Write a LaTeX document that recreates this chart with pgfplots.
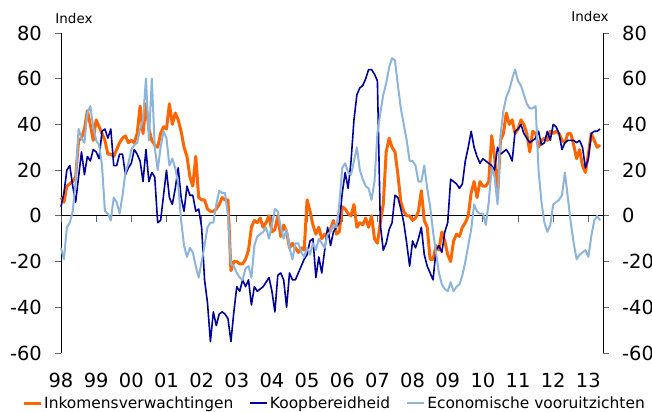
\documentclass[border=0pt]{standalone}
\usepackage{pgfplots}
\pgfplotsset{compat=1.18}
\usepackage{pgfplotstable}
\usepackage{fontspec}
\setmainfont{DejaVu Sans}
\definecolor{cOr}{HTML}{FF6600}
\definecolor{cNa}{HTML}{000099}
\definecolor{cLb}{HTML}{8EB4DA}
\pgfplotstableread{
m O N L
0 8 4 -14
1 6 10 -19
2 13 20 -5
3 14 22 -3
4 15 13 2
5 17 6 15
6 33 17 38
7 34 28 34
8 38 18 32
9 46 26 45
10 40 24 48
11 33 29 39
12 42 28 33
13 39 25 31
14 36 37 22
15 33 38 2
16 27 34 1
17 27 38 -2
18 26 22 8
19 29 22 6
20 32 27 1
21 34 27 9
22 35 18 19
23 32 21 23
24 33 23 29
25 32 29 31
26 36 27 32
27 48 24 38
28 36 15 42
29 49 29 60
30 38 15 33
31 33 19 60
32 31 17 30
33 30 -3 20
34 36 -2 30
35 39 9 37
36 38 20 34
37 49 8 22
38 40 5 25
39 45 12 21
40 42 21 14
41 37 8 -2
42 30 2 -13
43 26 13 -18
44 17 9 -14
45 13 9 -16
46 26 2 -22
47 8 3 -27
48 7 -5 -20
49 7 -28 -13
50 3 -38 -5
51 2 -55 -3
52 2 -42 -3
53 3 -48 5
54 5 -43 11
55 8 -42 10
56 7 -43 10
57 7 -45 0
58 -24 -55 -21
59 -20 -42 -22
60 -20 -31 -25
61 -21 -33 -27
62 -21 -28 -28
63 -19 -31 -23
64 -15 -28 -22
65 -5 -39 -27
66 -2 -31 -13
67 -3 -33 -9
68 -1 -32 -8
69 -5 -31 -7
70 -3 -29 -5
71 0 -27 -10
72 -7 -33 -4
73 -6 -42 3
74 0 -26 2
75 -9 -25 -5
76 -4 -28 -10
77 -7 -40 -6
78 -14 -25 -14
79 -12 -28 -19
80 -14 -28 -12
81 -16 -25 -12
82 -14 -22 -16
83 -15 -19 -18
84 7 -17 -14
85 2 -11 -17
86 -4 -10 -12
87 -8 -27 -15
88 -5 -18 -10
89 -10 -25 -12
90 -8 -15 -14
91 -9 -5 -8
92 -6 -13 -7
93 -2 -7 -4
94 -8 -5 -5
95 -7 -3 5
96 4 10 21
97 3 19 23
98 1 12 19
99 0 24 18
100 5 42 24
101 -5 53 30
102 -3 56 20
103 -4 57 16
104 -1 60 13
105 -5 64 12
106 0 64 7
107 -10 62 15
108 -12 59 36
109 -3 -4 45
110 5 -15 53
111 28 -12 58
112 34 -6 65
113 30 -3 69
114 28 9 68
115 18 8 57
116 6 3 47
117 2 -3 40
118 0 -12 33
119 0 -22 24
120 -2 -11 24
121 -1 -14 22
122 2 -10 15
123 11 -5 15
124 -2 -17 22
125 -5 -22 12
126 -19 -25 4
127 -19 -28 -7
128 -13 -15 -16
129 -15 -13 -25
130 -7 -16 -30
131 -11 -7 -32
132 -17 -3 -33
133 -20 16 -29
134 -11 15 -33
135 -8 14 -31
136 -9 12 -30
137 -5 14 -26
138 -3 24 -20
139 0 30 -13
140 10 37 -6
141 15 30 5
142 8 26 2
143 15 23 1
144 13 25 1
145 13 24 -4
146 15 23 6
147 35 22 21
148 26 20 17
149 8 30 5
150 33 27 35
151 36 28 46
152 45 29 52
153 40 27 55
154 42 24 60
155 36 37 64
156 38 38 59
157 42 40 57
158 40 36 53
159 36 34 49
160 28 32 47
161 37 33 47
162 36 34 48
163 30 37 20
164 33 31 6
165 34 32 -3
166 33 37 -7
167 37 33 -4
168 36 40 5
169 37 39 6
170 36 36 7
171 33 29 9
172 32 32 19
173 36 33 8
174 36 33 -3
175 31 33 -12
176 25 32 -19
177 29 33 -17
178 22 30 -16
179 19 21 -15
180 27 25 -18
181 36 36 -9
182 33 37 -2
183 30 37 0
184 31 38 -2
}\data
\begin{document}
\begin{tikzpicture}
\pgfplotsset{
  every axis/.append style={
    scale only axis, width=542bp, height=320bp,
    xmin=0, xmax=185, ymin=-60, ymax=80,
    ytick={-60,-40,-20,0,20,40,60,80},
    yticklabels={-60,-40,-20,0,20,40,60,80},
    ytick align=outside, major tick length=6bp,
    every tick label/.append style={font=\fontsize{19.5}{21}\selectfont},
    y axis line style={line width=0.9bp},
    ytick style={line width=0.9bp, black!60},
  }
}
\begin{axis}[name=ax,
  axis y line*=left, axis x line*=bottom,
  x axis line style={draw=none},
  xtick={0,12,...,180},
  xticklabels={98,99,00,01,02,03,04,05,06,07,08,09,10,11,12,13},
  xtick align=inside, xtick style={draw=none},
  xticklabel style={anchor=base, inner sep=0pt, yshift=-34bp},
  yticklabel style={anchor=east, inner sep=0pt, xshift=-13bp},
  clip=false,
  legend columns=3,
  legend style={draw=none, fill=none, at={(0,0)}, anchor=west,
    xshift=-39bp, yshift=-50bp, inner sep=0pt,
    font=\fontsize{15.5}{17}\selectfont,
    nodes={inner xsep=2bp, inner ysep=1bp},
    /tikz/every even column/.append style={column sep=14bp}},
  legend image code/.code={\draw[#1, line cap=butt] (0bp,0bp) -- (17bp,0bp);},
]
\draw[black, line width=0.9bp] (axis cs:0,0) -- (axis cs:185,0);
\pgfplotsinvokeforeach{0,12,...,180}{\draw[black!60, line width=0.9bp] (axis cs:#1,0) -- (axis cs:#1,-2.6);}
\addplot[cOr, line width=3bp, line join=round] table[x=m, y=O] {\data};
\addlegendentry{Inkomensverwachtingen}
\addplot[cNa, line width=1.6bp, line join=round] table[x=m, y=N] {\data};
\addlegendentry{Koopbereidheid}
\addplot[cLb, line width=2bp, line join=round] table[x=m, y=L] {\data};
\addlegendentry{Economische vooruitzichten}
\end{axis}
\begin{axis}[
  axis y line*=right, axis x line=none,
  yticklabel style={anchor=west, inner sep=0pt, xshift=13bp},
]
\end{axis}
\node[font=\fontsize{13.5}{15}\selectfont] at ([xshift=13bp,yshift=15bp]ax.north west) {Index};
\node[font=\fontsize{13.5}{15}\selectfont] at ([xshift=-13bp,yshift=17bp]ax.north east) {Index};
\pgfresetboundingbox
\path[use as bounding box] ([xshift=-61bp,yshift=-59bp]ax.south west) rectangle ([xshift=49bp,yshift=33bp]ax.north east);
\end{tikzpicture}
\end{document}
